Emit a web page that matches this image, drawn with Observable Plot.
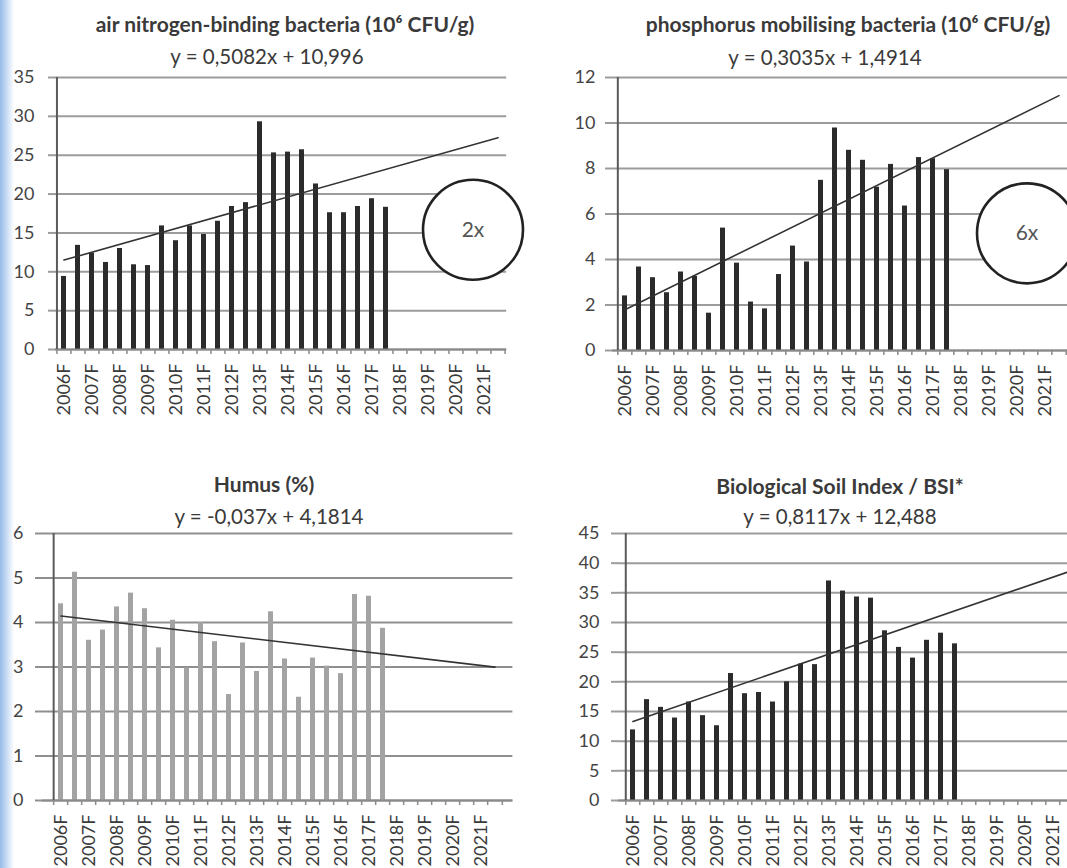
<!DOCTYPE html>
<html>
<head>
<meta charset="utf-8">
<script src="https://cdn.jsdelivr.net/npm/d3@7"></script>
<script src="https://cdn.jsdelivr.net/npm/@observablehq/plot@0.6"></script>
<style>
  html, body { margin: 0; padding: 0; }
  body { width: 1067px; height: 868px; overflow: hidden; position: relative; background: #fff;
         font-family: Lato, "Open Sans", sans-serif; }
  .strip { position: absolute; left: 0; top: 0; width: 14px; height: 868px;
           background: linear-gradient(to right, rgba(130,175,228,0.85), rgba(255,255,255,0)); }
  .lbl { position: absolute; white-space: nowrap; transform: translate(-50%, -50%); color: #333; }
  .title { font-weight: bold; font-size: 21px; color: #3a3a3a; }
  .eq { font-size: 20.5px; color: #3a3a3a; }
  .panel { position: absolute; }
</style>
</head>
<body>
<div class="strip"></div>
<script>
// ---------- data ----------
const tickLabels = ["2006F","2007F","2008F","2009F","2010F","2011F","2012F","2013F",
                    "2014F","2015F","2016F","2017F","2018F","2019F","2020F","2021F"];
const categories = tickLabels.flatMap(t => [t, t.replace("F", "H")]);

const titles = [
  "air nitrogen-binding bacteria (10\u2076 CFU/g)",
  "phosphorus mobilising bacteria (10\u2076 CFU/g)",
  "Humus (%)",
  "Biological Soil Index / BSI*"
];
const equations = [
  "y = 0,5082x + 10,996",
  "y = 0,3035x + 1,4914",
  "y = -0,037x + 4,1814",
  "y = 0,8117x + 12,488"
];
const trendSlopes = [0.5082, 0.3035, -0.037, 0.8117];
const trendIntercepts = [10.996, 1.4914, 4.1814, 12.488];

const nitrogen   = [9.4, 13.4, 12.4, 11.2, 13.0, 10.9, 10.8, 15.9, 14.0, 15.9, 14.8, 16.5,
                    18.4, 18.9, 29.3, 25.3, 25.4, 25.7, 21.3, 17.6, 17.6, 18.4, 19.4, 18.3];
const phosphorus = [2.4, 3.67, 3.2, 2.54, 3.45, 3.26, 1.64, 5.38, 3.84, 2.13, 1.83, 3.34,
                    4.59, 3.89, 7.48, 9.78, 8.8, 8.36, 7.18, 8.18, 6.35, 8.48, 8.43, 7.95];
const humus      = [4.42, 5.13, 3.6, 3.83, 4.35, 4.66, 4.31, 3.43, 4.05, 2.98, 4.0, 3.57,
                    2.38, 3.54, 2.9, 4.24, 3.18, 2.32, 3.2, 3.02, 2.85, 4.63, 4.59, 3.87];
const bsi        = [11.9, 17.0, 15.7, 13.9, 16.6, 14.3, 12.6, 21.4, 18.0, 18.2, 16.6, 20.0,
                    23.0, 22.9, 37.0, 35.3, 34.3, 34.1, 28.6, 25.8, 24.0, 27.0, 28.2, 26.4];

const yTicksNitrogen   = [0, 5, 10, 15, 20, 25, 30, 35];
const yTicksPhosphorus = [0, 2, 4, 6, 8, 10, 12];
const yTicksHumus      = [0, 1, 2, 3, 4, 5, 6];
const yTicksBsi        = [0, 5, 10, 15, 20, 25, 30, 35, 40, 45];

const annotationLabels = ["2x", "6x"];
const annotationCats   = ["2020H", "2020F"];
const annotationValues = [15.4, 5.15];

// ---------- layout ----------
const layouts = [
  {left: 0,   top: 70,  width: 540, height: 360, ml: 55, mt: 7,  mb: 81, step: 14.1,  yPad: 14,
   grid: "#9c9c9c", bar: "#2b2b2b", tx: 285, ty: 23, ex: 267, ey: 56, adx: 3},
  {left: 540, top: 70,  width: 545, height: 360, ml: 72, mt: 7,  mb: 80, step: 14.34, yPad: 10,
   grid: "#9c9c9c", bar: "#2b2b2b", tx: 848, ty: 23, ex: 825, ey: 57, adx: 10},
  {left: 0,   top: 520, width: 540, height: 348, ml: 42, mt: 13, mb: 68, step: 14.7,  yPad: 12,
   grid: "#8f8f8f", bar: "#a3a3a3", tx: 264, ty: 483, ex: 269, ey: 516},
  {left: 540, top: 520, width: 545, height: 348, ml: 78, mt: 13, mb: 68, step: 14.45, yPad: 12,
   grid: "#9c9c9c", bar: "#2b2b2b", tx: 840, ty: 485, ex: 840, ey: 516}
];

const series = [nitrogen, phosphorus, humus, bsi];
const yTicksAll = [yTicksNitrogen, yTicksPhosphorus, yTicksHumus, yTicksBsi];

function addLabel(cls, text, x, y) {
  const d = document.createElement("div");
  d.className = "lbl " + cls;
  d.textContent = text;
  d.style.left = x + "px";
  d.style.top = y + "px";
  document.body.appendChild(d);
}

series.forEach((values, k) => {
  const L = layouts[k];
  const yTicks = yTicksAll[k];
  const plotW = L.step * categories.length;
  const mr = L.width - L.ml - plotW;
  const data = values.map((v, i) => ({cat: categories[i], v}));
  const n = categories.length;
  const trend = [
    {cat: categories[0], v: trendIntercepts[k] + trendSlopes[k] * 1},
    {cat: categories[n - 1], v: trendIntercepts[k] + trendSlopes[k] * n}
  ];
  const marks = [
    Plot.gridY(yTicks, {stroke: L.grid, strokeOpacity: 1, strokeWidth: 2}),
    Plot.axisY(yTicks, {tickSize: 7, tickPadding: L.yPad, stroke: L.grid, strokeWidth: 2,
                        fill: "#444", fontSize: 18, label: null}),
    Plot.barY(data, {x: "cat", y: "v", fill: L.bar}),
    Plot.ruleY([0], {stroke: "#8a8a8a", strokeWidth: 2}),
    Plot.ruleX([categories[0]], {dx: -L.step / 2, stroke: "#5a5a5a", strokeWidth: 2}),
    Plot.axisX(categories, {tickSize: 5, tickFormat: () => "", dx: -L.step / 2,
                            stroke: "#8a8a8a", strokeWidth: 1.5, label: null}),
    Plot.axisX([categories[n - 1]], {tickSize: 5, tickFormat: () => "", dx: L.step / 2,
                            stroke: "#8a8a8a", strokeWidth: 1.5, label: null}),
    Plot.axisX(tickLabels, {tickSize: 0, tickPadding: 14, tickRotate: -90, fontSize: 18,
                            fill: "#3a3a3a", label: null}),
    Plot.line(trend, {x: "cat", y: "v", stroke: "#333", strokeWidth: 1.6})
  ];
  if (k < annotationLabels.length) {
    const ann = [{cat: annotationCats[k], v: annotationValues[k], label: annotationLabels[k]}];
    marks.push(Plot.dot(ann, {x: "cat", y: "v", r: 50, fill: "white", stroke: "#222",
                              strokeWidth: 2.6, dx: L.adx}));
    marks.push(Plot.text(ann, {x: "cat", y: "v", text: "label", fontSize: 21, fill: "#555",
                               dx: L.adx}));
  }
  const svg = Plot.plot({
    width: L.width, height: L.height,
    marginLeft: L.ml, marginRight: mr, marginTop: L.mt, marginBottom: L.mb,
    style: {background: "transparent", fontFamily: "Lato, 'Open Sans', sans-serif",
            fontSize: "18px", color: "#444", overflow: "visible"},
    x: {type: "band", domain: categories, paddingInner: 0.62, paddingOuter: 0.31},
    y: {domain: [0, yTicks[yTicks.length - 1]]},
    marks
  });
  svg.classList.add("panel");
  svg.style.left = L.left + "px";
  svg.style.top = L.top + "px";
  svg.style.maxWidth = "none";
  document.body.appendChild(svg);
  addLabel("title", titles[k], L.tx, L.ty);
  addLabel("eq", equations[k], L.ex, L.ey);
});
</script>
</body>
</html>
